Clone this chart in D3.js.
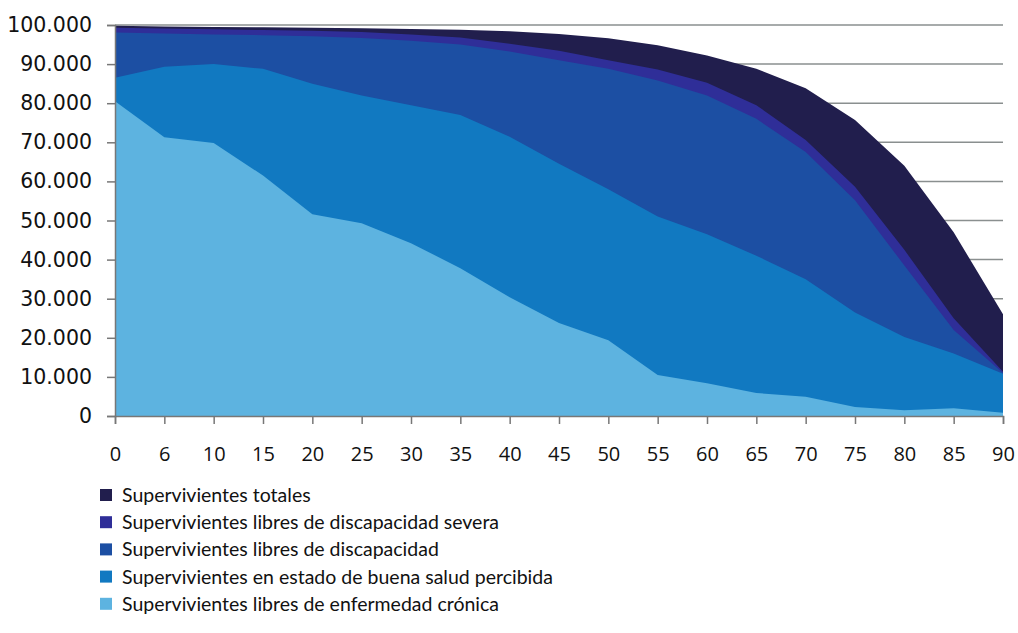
<!DOCTYPE html>
<html>
<head>
<meta charset="utf-8">
<script src="https://cdn.jsdelivr.net/npm/d3@7"></script>
<style>
  body { margin: 0; background: #fff; }
  svg { display: block; }
</style>
</head>
<body>
<svg id="chart" width="1018" height="633"></svg>
<script>
// categories (age)
var ages = ["0", "6", "10", "15", "20", "25", "30", "35", "40", "45", "50", "55", "60", "65", "70", "75", "80", "85", "90"];

// survivors per series
var totales      = [99800, 99600, 99500, 99400, 99300, 99200, 99000, 98800, 98400, 97700, 96600, 94800, 92200, 88800, 83800, 75700, 64000, 47000, 26000];
var severa       = [99300, 99100, 98900, 98700, 98500, 98200, 97600, 96800, 95200, 93400, 91000, 88600, 85200, 79500, 70600, 58600, 42500, 25000, 11300];
var discapacidad = [98100, 97800, 97600, 97400, 97100, 96700, 96000, 95000, 93200, 91000, 88800, 85800, 82000, 76000, 67500, 55200, 38500, 22000, 11000];
var buenaSalud   = [86500, 89300, 90000, 88800, 85000, 82000, 79500, 77000, 71400, 64500, 58000, 51000, 46500, 41000, 35000, 26500, 20200, 16000, 10800];
var cronica      = [80500, 71300, 69800, 61500, 51600, 49300, 44200, 37800, 30400, 23800, 19400, 10500, 8400, 5900, 4900, 2300, 1500, 2000, 800];

var seriesNames = [
  "Supervivientes totales",
  "Supervivientes libres de discapacidad severa",
  "Supervivientes libres de discapacidad",
  "Supervivientes en estado de buena salud percibida",
  "Supervivientes libres de enfermedad crónica"
];
var yTicks = [0, 10000, 20000, 30000, 40000, 50000, 60000, 70000, 80000, 90000, 100000];

var colors = ["#211e4d", "#2f2e98", "#1c4fa3", "#1179c1", "#5db3e0"];
var series = [totales, severa, discapacidad, buenaSalud, cronica];

var svg = d3.select("#chart");
var plotLeft = 115, plotRight = 1003, plotTop = 25, plotBottom = 416;

var x = d3.scalePoint().domain(ages).range([plotLeft, plotRight]);
var y = d3.scaleLinear().domain([0, 100000]).range([plotBottom, plotTop]);

var es = d3.formatLocale({decimal: ",", thousands: ".", grouping: [3], currency: ["", "€"]});
var fmt = es.format(",d");

// gridlines
svg.append("g").selectAll("line")
  .data(yTicks.slice(1))
  .enter().append("line")
  .attr("x1", plotLeft).attr("x2", plotRight)
  .attr("y1", function(d) { return y(d); })
  .attr("y2", function(d) { return y(d); })
  .attr("stroke", "#8a8f8f")
  .attr("stroke-width", 1.5);

// areas, back to front
var area = d3.area()
  .x(function(d, i) { return x(ages[i]); })
  .y0(y(0))
  .y1(function(d) { return y(d); });

svg.append("g").selectAll("path")
  .data(series)
  .enter().append("path")
  .attr("d", area)
  .attr("fill", function(d, i) { return colors[i]; });

// y axis
var yAxis = svg.append("g")
  .attr("transform", "translate(" + plotLeft + ",0)")
  .call(d3.axisLeft(y).tickValues(yTicks).tickFormat(fmt).tickSize(8).tickPadding(15));
yAxis.select(".domain").attr("stroke", "#777").attr("stroke-width", 1.5);
yAxis.selectAll(".tick line").attr("stroke", "#777").attr("stroke-width", 1.5);
yAxis.selectAll("text")
  .attr("fill", "#111")
  .style("font-family", "'DejaVu Sans', sans-serif")
  .style("font-size", "20.5px");

// x axis
var xAxis = svg.append("g")
  .attr("transform", "translate(0," + plotBottom + ")")
  .call(d3.axisBottom(x).tickSize(8).tickPadding(23));
xAxis.select(".domain").attr("stroke", "#777").attr("stroke-width", 1.5);
xAxis.selectAll(".tick line").attr("stroke", "#777").attr("stroke-width", 1.5);
xAxis.selectAll("text")
  .attr("fill", "#111")
  .style("font-family", "'Open Sans', sans-serif")
  .style("font-size", "20px");

// legend
var legend = svg.append("g").selectAll("g")
  .data(seriesNames)
  .enter().append("g")
  .attr("transform", function(d, i) { return "translate(100," + (495 + i * 27.2) + ")"; });

legend.append("rect")
  .attr("x", 0).attr("y", -6)
  .attr("width", 12).attr("height", 12)
  .attr("fill", function(d, i) { return colors[i]; });

legend.append("text")
  .attr("x", 22).attr("y", 0)
  .attr("dy", "0.36em")
  .attr("fill", "#111")
  .style("font-family", "Lato, sans-serif")
  .style("font-size", "19.5px")
  .text(function(d) { return d; });
</script>
</body>
</html>
